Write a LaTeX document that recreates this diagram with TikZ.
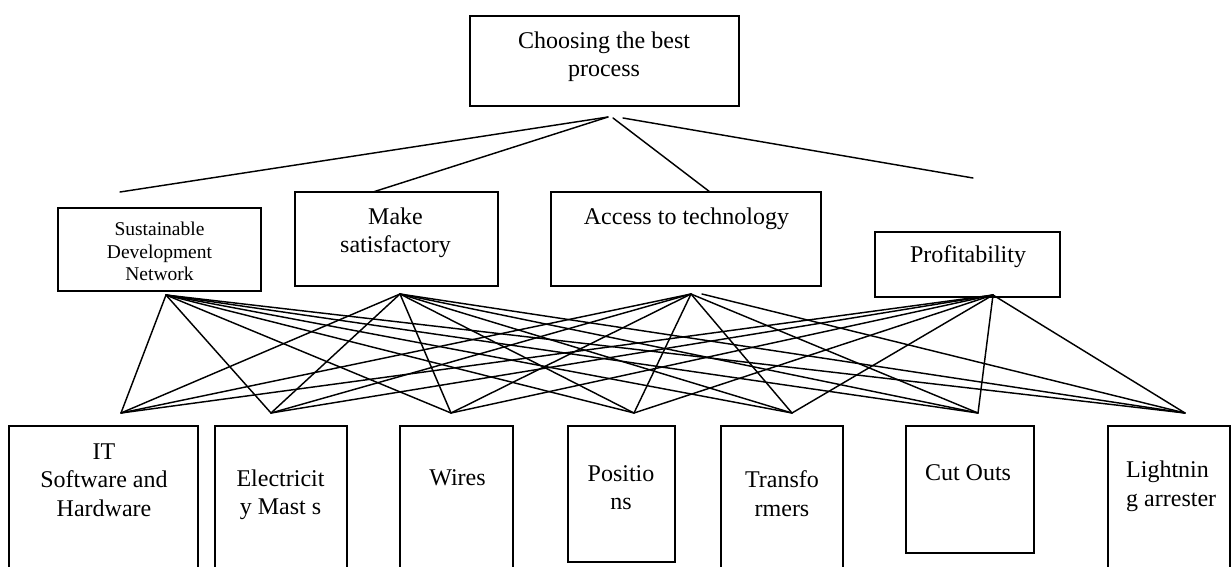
\documentclass[tikz,border=0pt]{standalone}
\usepackage{fontspec}
\setmainfont{Liberation Serif}
\begin{document}
\begin{tikzpicture}[x=1pt,y=-1pt,
  box/.style={draw, line width=1.6pt, inner sep=0pt},
  lbl/.style={inner sep=0pt, align=center, font=\fontsize{24}{28.5}\selectfont},
  smalllbl/.style={inner sep=0pt, align=center, font=\fontsize{19.5}{22.5}\selectfont},
  link/.style={line width=1.45pt, line cap=round}]
\useasboundingbox (0,0) rectangle (1232,566);
\clip (0,0) rectangle (1232,566);

% goal
\node[box, minimum width=269pt, minimum height=90pt] (goal) at (604.5,61) {};
\node[lbl] (goalT) at (604,56.5) {Choosing the best\\process};

% criteria
\node[box, minimum width=203pt, minimum height=83pt] (sust) at (159.5,249.5) {};
\node[smalllbl] (sustT) at (159.5,251.5) {Sustainable\\Development\\Network};
\node[box, minimum width=203pt, minimum height=94pt] (make) at (396.5,239) {};
\node[lbl] (makeT) at (395.5,233) {Make\\satisfactory};
\node[box, minimum width=270pt, minimum height=94pt] (acc) at (686,239) {};
\node[lbl] (accT) at (686.5,219) {Access to technology};
\node[box, minimum width=185pt, minimum height=65pt] (prof) at (967.5,264.5) {};
\node[lbl] (profT) at (968,256.5) {Profitability};

% alternatives
\node[box, minimum width=189pt, minimum height=194pt] (it) at (103.5,523) {};
\node[lbl] (itT) at (104,480) {IT\\Software and\\Hardware};
\node[box, minimum width=132pt, minimum height=194pt] (elec) at (281,523) {};
\node[lbl] (elecT) at (280.5,495) {Electricit\\y Mast s};
\node[box, minimum width=113pt, minimum height=194pt] (wires) at (456.5,523) {};
\node[lbl] (wiresT) at (457.5,477.5) {Wires};
\node[box, minimum width=107pt, minimum height=136pt] (pos) at (621.5,494) {};
\node[lbl] (posT) at (621,487.5) {Positio\\ns};
\node[box, minimum width=122pt, minimum height=194pt] (trans) at (782,523) {};
\node[lbl] (transT) at (782,493.5) {Transfo\\rmers};
\node[box, minimum width=128pt, minimum height=127pt] (cut) at (970,489.5) {};
\node[lbl] (cutT) at (968,472.5) {Cut Outs};
\node[box, minimum width=122pt, minimum height=194pt] (light) at (1169,523) {};
\node[lbl, align=left, anchor=west] (lightT) at (1126,486.5) {Lightnin\\g arrester};

% connection points
\coordinate (t1) at (608,117);
\coordinate (t2) at (613,118);
\coordinate (t3) at (623,118);
\coordinate (e1) at (120,192);
\coordinate (e2) at (373,192);
\coordinate (e3) at (710,192);
\coordinate (e4) at (973,178);

\coordinate (sF) at (166,295);
\coordinate (mF) at (400,294);
\coordinate (aF) at (691,294);
\coordinate (aG) at (702,294);
\coordinate (pF) at (993,295);

\coordinate (b1) at (121,413);
\coordinate (b2) at (271,413);
\coordinate (b3) at (451,413);
\coordinate (b4) at (634,413);
\coordinate (b5) at (792,413);
\coordinate (b6) at (978,413);
\coordinate (b7) at (1185,413);

% goal to criteria
\draw[link] (t1) -- (e1);
\draw[link] (t1) -- (e2);
\draw[link] (t2) -- (e3);
\draw[link] (t3) -- (e4);

% criteria to alternatives
\foreach \s in {sF,mF,pF}{
  \foreach \b in {b1,b2,b3,b4,b5,b6,b7}{
    \draw[link] (\s) -- (\b);
  }
}
\foreach \b in {b1,b2,b3,b4,b5,b6}{
  \draw[link] (aF) -- (\b);
}
\draw[link] (aG) -- (b7);
\end{tikzpicture}
\end{document}
